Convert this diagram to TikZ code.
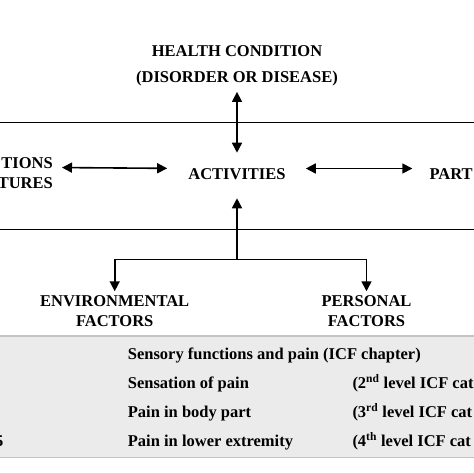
\documentclass[tikz,border=0pt]{standalone}
\usepackage{fontspec}
\setmainfont{Liberation Serif}
\usepackage{tikz}
\usetikzlibrary{arrows.meta}
\definecolor{tablegrey}{HTML}{EBEBEB}
\definecolor{tableline}{HTML}{C4C4C4}
\tikzstyle{caps}=[inner sep=0pt, align=center, font=\fontsize{16.5}{20}\selectfont\bfseries]
\tikzstyle{row}=[inner sep=0pt, anchor=base west, font=\fontsize{16.5}{20}\selectfont\bfseries]
\tikzstyle{link}=[line width=1.6pt, -{Triangle[length=10pt,width=10pt]}]
\tikzstyle{twoway}=[line width=1.6pt, {Triangle[length=10pt,width=10pt]}-{Triangle[length=10pt,width=10pt]}]
\tikzstyle{band}=[line width=1.6pt]

\begin{document}
\begin{tikzpicture}[x=1pt, y=-1pt]
              \useasboundingbox (0,0) rectangle (474,474);
              \clip (0,0) rectangle (474,474);
              % frame lines
              \draw[band] (0,122.3) -- (474,122.3);
              \draw[band] (0,229.3) -- (474,229.3);
              % upper part
              \node[caps] (hc) at (237,65.5){HEALTH CONDITION\\[6pt](DISORDER OR DISEASE)};
              \node[caps] (act) at (237,174.5){ACTIVITIES};
              \node[caps, align=right, anchor=east] (bfs) at (53,173.5){TIONS\\TURES};
              \node[caps, anchor=west] (part) at (429.3,174.5){PART};
              \draw[twoway, shorten <=6pt, shorten >=16pt](hc.south) -- (act.north);
              \draw[twoway, shorten <=9pt, shorten >=21pt]([yshift=6pt]bfs.east) -- ([yshift=6pt]act.west);
              \draw[twoway, shorten <=20pt, shorten >=17pt]([yshift=6pt]act.east) -- ([yshift=6pt]part.west);
              % contextual factors
              \node[caps] (env) at (114.7,311){ENVIRONMENTAL\\FACTORS};
              \node[caps] (pers) at (366.5,311){PERSONAL\\FACTORS};
              \coordinate (split) at (237,259.3);
              \draw[link, shorten >=18pt](split) -- (act.south);
              \draw[link, shorten >=4pt](split) -| (env.north);
              \draw[link, shorten >=4pt](split) -| (pers.north);
              % table
              \draw[line width=1.5pt, draw=tableline, fill=tablegrey] (-2,336) rectangle (476,457.5);
              \draw[line width=1pt, draw=tableline!60] (-2,473) -- (476,473);
              \node[row] (r1) at (127.7,359.3){Sensory functions and pain (ICF chapter)};
              \node[row] (r2) at (127.7,388.3){Sensation of pain};
              \node[row] (r3) at (127.7,417.3){Pain in body part};
              \node[row] (r4) at (127.7,446.5){Pain in lower extremity};
              \node[row] (l2) at (352.3,388.3){(2\textsuperscript{nd} level ICF cat};
              \node[row] (l3) at (352.3,417.3){(3\textsuperscript{rd} level ICF cat};
              \node[row] (l4) at (352.3,446.5){(4\textsuperscript{th} level ICF cat};
              \node[row, anchor=base east] (code) at (3.5,446.5){5};
            \end{tikzpicture}
\end{document}
